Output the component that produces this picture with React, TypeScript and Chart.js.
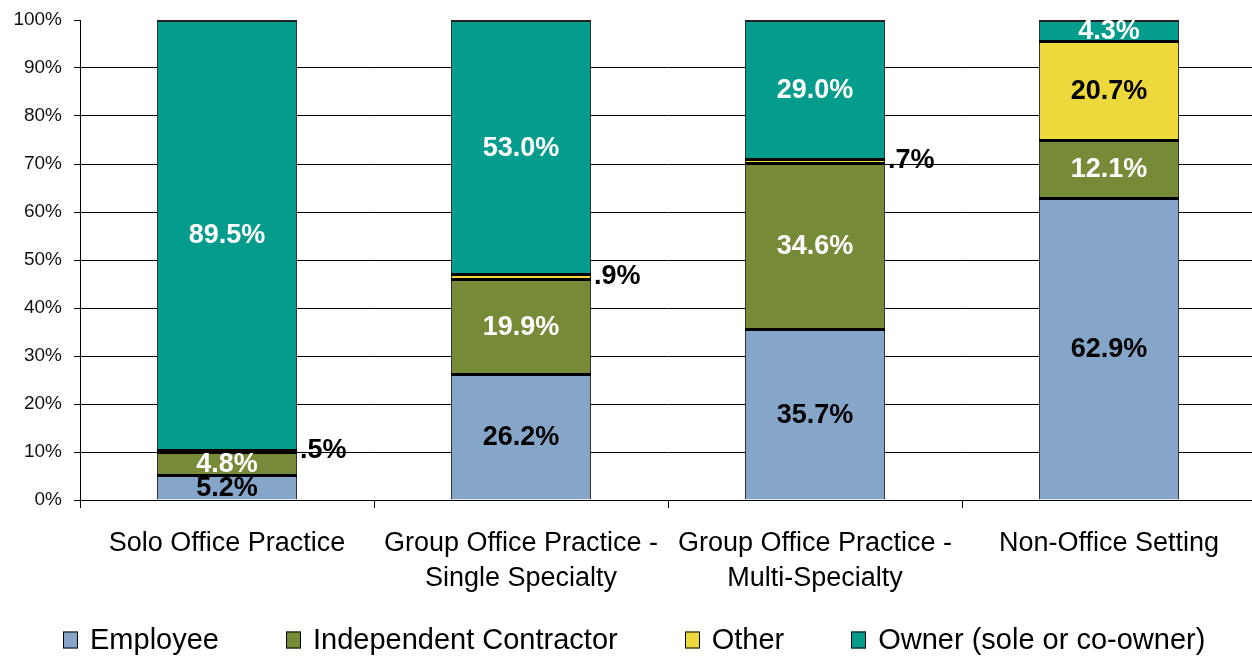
import React, { useEffect, useRef } from 'react';
import { Chart, registerables } from 'chart.js';

Chart.register(...registerables);

const categories: string[][] = [
  ['Solo Office Practice'],
  ['Group Office Practice -', 'Single Specialty'],
  ['Group Office Practice -', 'Multi-Specialty'],
  ['Non-Office Setting'],
];
const seriesNames = ['Employee', 'Independent Contractor', 'Other', 'Owner (sole or co-owner)'];
const employee = [5.2, 26.2, 35.7, 62.9];
const contractor = [4.8, 19.9, 34.6, 12.1];
const other = [0.5, 0.9, 0.7, 20.7];
const owner = [89.5, 53.0, 29.0, 4.3];
const yTickValues = [0, 10, 20, 30, 40, 50, 60, 70, 80, 90, 100];

const seriesColors = ['#85A6C9', '#778A38', '#EDD93B', '#049C8C'];
const labelColors = ['#000000', '#FFFFFF', '#000000', '#FFFFFF'];

const FONT = '"Liberation Sans", Arial, sans-serif';

function fmt(v: number): string {
  const s = v.toFixed(1) + '%';
  return v < 1 ? s.replace(/^0/, '') : s;
}

// Segment separator lines, placed from each bar element's own top edge.
const separatorPlugin = {
  id: 'segSeparators',
  afterDatasetsDraw(chart: any) {
    const ctx = chart.ctx;
    ctx.save();
    const last = chart.data.datasets.length - 1;
    chart.data.datasets.forEach((_ds: any, di: number) => {
      const meta = chart.getDatasetMeta(di);
      meta.data.forEach((el: any) => {
        const p = el.getProps(['x', 'y', 'width'], true);
        const left = Math.round(p.x - p.width / 2);
        const w = Math.round(p.width);
        if (di === last) {
          ctx.fillStyle = '#222';
          ctx.fillRect(left, Math.round(p.y), w, 2);
        } else {
          ctx.fillStyle = '#000';
          ctx.fillRect(left, Math.round(p.y) - 1, w, 3);
        }
      });
    });
    ctx.restore();
  },
};

const labelPlugin = {
  id: 'segLabels',
  afterDatasetsDraw(chart: any) {
    const ctx = chart.ctx;
    ctx.save();
    ctx.font = `bold 27px ${FONT}`;
    ctx.textBaseline = 'middle';
    chart.data.datasets.forEach((ds: any, di: number) => {
      const meta = chart.getDatasetMeta(di);
      meta.data.forEach((el: any, i: number) => {
        const v = ds.data[i] as number;
        const p = el.getProps(['x', 'y', 'base', 'width'], true);
        const cy = (p.y + p.base) / 2;
        if (v < 2) {
          ctx.fillStyle = '#000';
          ctx.textAlign = 'left';
          ctx.fillText(fmt(v), p.x + p.width / 2 + 3, cy);
        } else {
          ctx.fillStyle = labelColors[di];
          ctx.textAlign = 'center';
          ctx.fillText(fmt(v), p.x, cy + 1);
        }
      });
    });
    ctx.restore();
  },
};

const legendPlugin = {
  id: 'customLegend',
  afterDraw(chart: any) {
    const ctx = chart.ctx;
    ctx.save();
    ctx.font = `29px ${FONT}`;
    ctx.textBaseline = 'middle';
    ctx.textAlign = 'left';
    const boxW = 15;
    const boxH = 17;
    const gapText = 12;
    const gapItem = 67;
    const items = chart.data.datasets.map((ds: any) => ({
      label: ds.label as string,
      color: ds.backgroundColor as string,
      w: ctx.measureText(ds.label).width,
    }));
    const total = items.reduce((s: number, it: any) => s + boxW + gapText + it.w, 0) + gapItem * (items.length - 1);
    let x = Math.round(634 - total / 2);
    const cy = 640;
    items.forEach((it: any) => {
      const bx = Math.round(x);
      ctx.fillStyle = it.color;
      ctx.fillRect(bx, cy - boxH / 2, boxW, boxH);
      ctx.strokeStyle = '#000';
      ctx.lineWidth = 1;
      ctx.strokeRect(bx + 0.5, cy - boxH / 2 + 0.5, boxW - 1, boxH - 1);
      ctx.fillStyle = '#000';
      ctx.fillText(it.label, x + boxW + gapText, cy + 1);
      x += boxW + gapText + it.w + gapItem;
    });
    ctx.restore();
  },
};

export default function App() {
  const ref = useRef<HTMLCanvasElement | null>(null);

  useEffect(() => {
    document.body.style.margin = '0';
    const canvas = ref.current!;
    const seriesData = [employee, contractor, other, owner];
    const chart = new Chart(canvas, {
      type: 'bar',
      data: {
        labels: categories,
        datasets: seriesNames.map((name, i) => ({
          label: name,
          data: seriesData[i],
          backgroundColor: seriesColors[i],
          borderColor: '#333333',
          borderWidth: { top: 0, right: 1, bottom: 0, left: 1 },
          borderSkipped: false,
          inflateAmount: 0,
          categoryPercentage: 1,
          barPercentage: 140 / 294,
        })),
      },
      options: {
        animation: false,
        responsive: false,
        devicePixelRatio: 1,
        layout: { padding: { left: 12, top: 20, right: 0, bottom: 65 } },
        plugins: {
          legend: { display: false },
          tooltip: { enabled: false },
        },
        scales: {
          x: {
            stacked: true,
            grid: {
              offset: true,
              drawOnChartArea: false,
              tickLength: 8,
              color: '#000',
              lineWidth: 1,
            },
            border: { color: '#000', width: 1 },
            ticks: {
              color: '#000',
              padding: 18,
              maxRotation: 0,
              autoSkip: false,
              font: { family: FONT, size: 27, lineHeight: 1.3 },
            },
            afterFit: (scale: any) => {
              scale.height = 93;
            },
          },
          y: {
            stacked: true,
            min: 0,
            max: 100,
            afterBuildTicks: (scale: any) => {
              scale.ticks = yTickValues.map((v) => ({ value: v }));
            },
            grid: {
              color: (c: any) => (c.tick && (c.tick.value === 100 || c.tick.value === 0) ? 'rgba(0,0,0,0)' : '#000'),
              tickColor: '#000',
              tickLength: 6,
              lineWidth: 1,
            },
            border: { color: '#000', width: 1 },
            ticks: {
              color: '#111',
              padding: 12,
              font: { family: FONT, size: 19 },
              callback: (v: any) => `${v}%`,
            },
            afterFit: (scale: any) => {
              scale.width = 68;
              scale.paddingTop = 0;
              scale.paddingBottom = 0;
            },
          },
        },
      },
      plugins: [separatorPlugin, labelPlugin, legendPlugin],
    } as any);
    return () => chart.destroy();
  }, []);

  return (
    <div style={{ position: 'fixed', left: 0, top: 0, width: 1252, height: 658, overflow: 'hidden', background: '#fff' }}>
      <canvas ref={ref} width={1256} height={658} style={{ display: 'block', width: 1256, height: 658 }} />
    </div>
  );
}
